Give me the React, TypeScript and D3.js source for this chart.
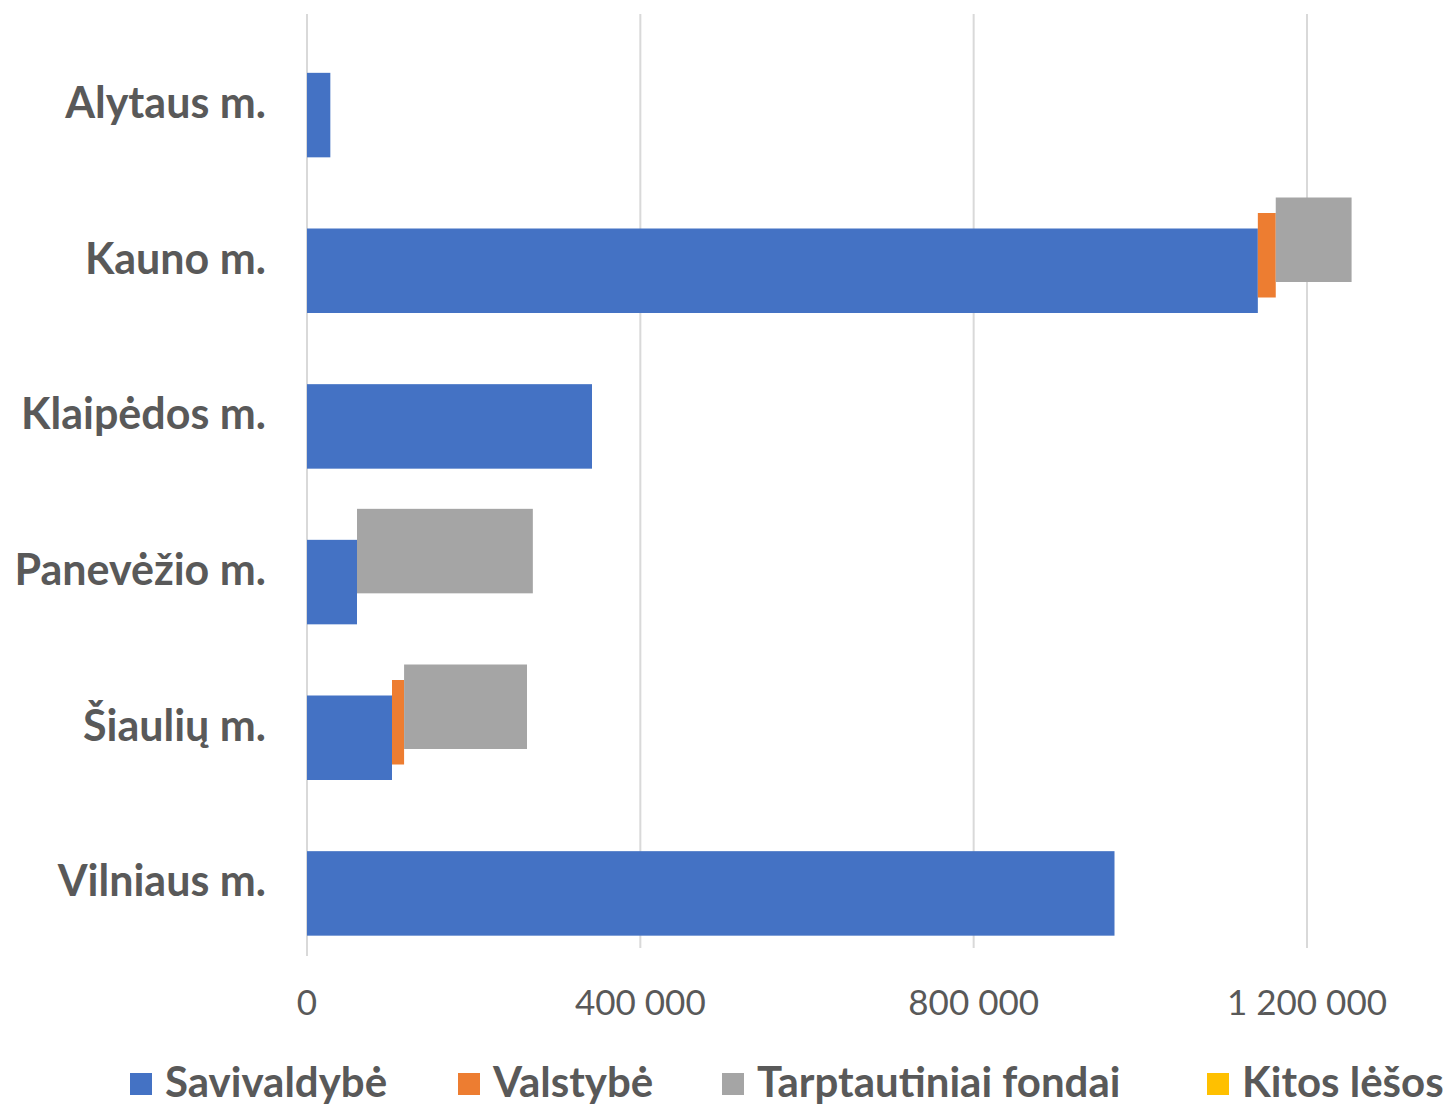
import * as d3 from 'd3'

const categories = ['Alytaus m.', 'Kauno m.', 'Klaipėdos m.', 'Panevėžio m.', 'Šiaulių m.', 'Vilniaus m.']
const seriesNames = ['Savivaldybė', 'Valstybė', 'Tarptautiniai fondai', 'Kitos lėšos']
const savivaldybe = [28000, 1141000, 342000, 60000, 102000, 969000]
const valstybe = [0, 21500, 0, 0, 14500, 0]
const tarptautiniai = [0, 91000, 0, 211000, 147500, 0]
const kitos = [0, 0, 0, 0, 0, 0]
const ticks = [0, 400000, 800000, 1200000]
const colors = ['#4472c4', '#ed7d31', '#a5a5a5', '#ffc000']

const width = 1454
const height = 1106
const plot = {left: 307, right: 1307, top: 14, bottom: 948}

export default function App() {
  const x = d3.scaleLinear().domain([0, 1200000]).range([plot.left, plot.right])
  const y = d3.scaleBand().domain(categories).range([plot.top, plot.bottom])
  const barH = 84.5
  const shift = 15.5

  const series = [savivaldybe, valstybe, tarptautiniai, kitos]
  const rows = categories.map((c, i) => {
    const obj: Record<string, number | string> = {cat: c}
    seriesNames.forEach((s, j) => (obj[s] = series[j][i]))
    return obj
  })
  const stacked = d3.stack<Record<string, number | string>>().keys(seriesNames)(rows)
  const fmt = (v: number) => d3.format(',')(v).replace(/,/g, ' ')

  const legendX = [130, 458, 722, 1207]

  return (
    <svg width={width} height={height} style={{position: 'absolute', left: 0, top: 0}} fontFamily="Lato, 'Open Sans', sans-serif">
      <rect width={width} height={height} fill="#fff" />
      {ticks.map(t => (
        <line key={t} x1={x(t)} x2={x(t)} y1={plot.top} y2={t === 0 ? plot.bottom + 8 : plot.bottom} stroke="#d9d9d9" strokeWidth={2} />
      ))}
      {stacked.map((s, j) => (
        <g key={s.key} fill={colors[j]}>
          {s.map((d, i) => {
            const w = x(d[1]) - x(d[0])
            if (w <= 0) return null
            const cy = (y(categories[i]) ?? 0) + y.bandwidth() / 2 + (1.5 - j) * shift
            return <rect key={i} x={x(d[0])} y={cy - barH / 2} width={w} height={barH} />
          })}
        </g>
      ))}
      {categories.map(c => (
        <text key={c} x={266} y={(y(c) ?? 0) + y.bandwidth() / 2 + 11} dy="0.35em" textAnchor="end"
          fontSize={43} fontWeight={700} fill="#595959">{c}</text>
      ))}
      {ticks.map(t => (
        <text key={t} x={x(t)} y={1015} textAnchor="middle" fontSize={35} fill="#595959">{fmt(t)}</text>
      ))}
      {seriesNames.map((s, j) => (
        <g key={s} transform={`translate(${legendX[j]}, 1073)`}>
          <rect width={22} height={22} fill={colors[j]} />
          <text x={35} y={9} dy="0.36em" fontSize={42} fontWeight={700} fill="#595959">{s}</text>
        </g>
      ))}
    </svg>
  )
}
